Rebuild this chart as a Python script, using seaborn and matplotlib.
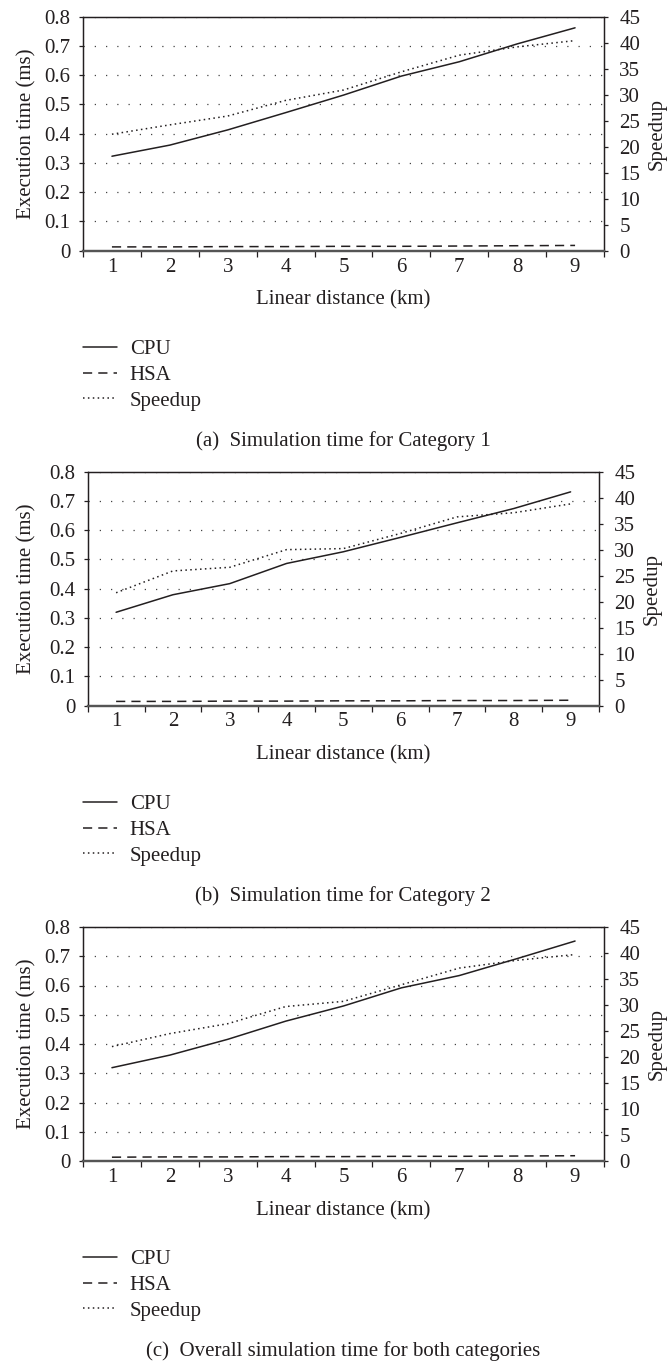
import matplotlib
matplotlib.use("Agg")
import matplotlib.pyplot as plt
import seaborn as sns
from matplotlib.lines import Line2D
from matplotlib.ticker import FixedLocator, FixedFormatter, NullFormatter

# Linear distance (km)
distance = [1, 2, 3, 4, 5, 6, 7, 8, 9]

# (a) Category 1
cpu_a = [0.323, 0.361, 0.413, 0.472, 0.532, 0.597, 0.646, 0.707, 0.762]
hsa_a = [0.013, 0.013, 0.014, 0.014, 0.015, 0.015, 0.016, 0.017, 0.018]
speedup_a = [22.4, 24.2, 25.9, 28.9, 30.9, 34.4, 37.6, 39.2, 40.4]

# (b) Category 2
cpu_b = [0.319, 0.379, 0.417, 0.486, 0.526, 0.575, 0.625, 0.674, 0.731]
hsa_b = [0.014, 0.014, 0.015, 0.015, 0.016, 0.016, 0.017, 0.017, 0.018]
speedup_b = [21.7, 25.9, 26.6, 30.0, 30.2, 33.1, 36.3, 37.1, 38.8]

# (c) Both categories
cpu_c = [0.319, 0.362, 0.416, 0.478, 0.530, 0.592, 0.634, 0.692, 0.752]
hsa_c = [0.013, 0.014, 0.014, 0.015, 0.015, 0.016, 0.016, 0.017, 0.018]
speedup_c = [22.0, 24.5, 26.4, 29.7, 30.7, 33.9, 37.1, 38.6, 39.7]

captions = [
    "(a)  Simulation time for Category 1",
    "(b)  Simulation time for Category 2",
    "(c)  Overall simulation time for both categories",
]
time_ticks = [0, 0.1, 0.2, 0.3, 0.4, 0.5, 0.6, 0.7, 0.8]
time_labels = ["0", "0.1", "0.2", "0.3", "0.4", "0.5", "0.6", "0.7", "0.8"]
speedup_ticks = [0, 5, 10, 15, 20, 25, 30, 35, 40, 45]
series_names = ["CPU", "HSA", "Speedup"]

sns.set_theme(style="white")
plt.rcParams["font.family"] = ["Liberation Serif", "DejaVu Serif"]
plt.rcParams["font.size"] = 15

INK = "#231f20"
W, H = 670, 1365
FS = 15

STYLE_CPU = dict(color=INK, linewidth=1.1, linestyle="-")
STYLE_HSA = dict(color=INK, linewidth=1.1, linestyle=(0, (6, 4)))
STYLE_SPD = dict(color=INK, linewidth=1.1, linestyle=(0, (1, 2.2)))

fig = plt.figure(figsize=(W / 100, H / 100), dpi=100)

# panel boxes in pixels: left, right, top, bottom
boxes = [
    (83, 604, 16.7, 250.7),
    (87.7, 599, 471.7, 705.5),
    (83, 604, 927, 1161),
]
panels = [
    (cpu_a, hsa_a, speedup_a),
    (cpu_b, hsa_b, speedup_b),
    (cpu_c, hsa_c, speedup_c),
]


def fx(px):
    return px / W


def fy(py):
    return 1 - py / H


for i, ((l, r, t, b), (cpu, hsa, spd)) in enumerate(zip(boxes, panels)):
    ax = fig.add_axes([fx(l), fy(b), (r - l) / W, (b - t) / H])
    ax.set_facecolor("white")

    sns.lineplot(x=distance, y=cpu, ax=ax, legend=False, **STYLE_CPU)
    sns.lineplot(x=distance, y=hsa, ax=ax, legend=False, **STYLE_HSA)

    ax.set_xlim(0.5, 9.5)
    ax.set_ylim(0, 0.8)
    ax.yaxis.set_major_locator(FixedLocator(time_ticks))
    ax.yaxis.set_major_formatter(FixedFormatter(time_labels))
    ax.yaxis.grid(True, linestyle=(0, (1, 8)), color="#444444", linewidth=0.9)
    ax.xaxis.grid(False)

    # boundaries get tick marks, category centres get the labels
    ax.xaxis.set_major_locator(FixedLocator([k + 0.5 for k in range(0, 10)]))
    ax.xaxis.set_major_formatter(NullFormatter())
    ax.xaxis.set_minor_locator(FixedLocator(distance))
    ax.xaxis.set_minor_formatter(FixedFormatter([str(d) for d in distance]))
    ax.tick_params(axis="x", which="major", direction="out", length=4.5,
                   width=0.9, color=INK, bottom=True)
    ax.tick_params(axis="x", which="minor", length=0, pad=5,
                   labelsize=FS, labelcolor=INK, bottom=True)
    ax.tick_params(axis="y", which="major", direction="out", length=3,
                   width=0.9, color=INK, pad=6, labelsize=FS,
                   labelcolor=INK, left=True)
    ax.set_xlabel("")
    ax.set_ylabel("")

    ax2 = ax.twinx()
    sns.lineplot(x=distance, y=spd, ax=ax2, legend=False, **STYLE_SPD)
    ax2.set_ylim(0, 45)
    ax2.set_xlim(0.5, 9.5)
    ax2.yaxis.set_major_locator(FixedLocator(speedup_ticks))
    ax2.grid(False)
    ax2.tick_params(axis="y", which="major", direction="out", length=3,
                    width=0.9, color=INK, pad=8, labelsize=FS,
                    labelcolor=INK, right=True)
    ax2.set_ylabel("")

    for a in (ax, ax2):
        for name, sp in a.spines.items():
            sp.set_color(INK)
            sp.set_linewidth(0.9)
        a.spines["bottom"].set_linewidth(1.6)
        a.spines["bottom"].set_color("#555555")

    off = i * 455
    mid_y = (t + b) / 2
    fig.text(fx(27), fy(mid_y), "Execution time (ms)", rotation=90,
             ha="center", va="center", fontsize=FS, color=INK)
    fig.text(fx(r + 53), fy(mid_y), "Speedup", rotation=90,
             ha="center", va="center", fontsize=FS, color=INK)
    fig.text(fx((l + r) / 2), fy(b + 49.5), "Linear distance (km)",
             ha="center", va="center", fontsize=FS, color=INK)

    handles = [Line2D([], [], **STYLE_CPU), Line2D([], [], **STYLE_HSA),
               Line2D([], [], **STYLE_SPD)]
    fig.legend(handles, series_names, loc="center left",
               bbox_to_anchor=(fx(83), fy(375 + off)), frameon=False,
               fontsize=FS, handlelength=1.65, handletextpad=0.6,
               labelspacing=0.3, borderpad=0, borderaxespad=0,
               labelcolor=INK)

    fig.text(fx(343), fy(441 + off), captions[i], ha="center", va="center",
             fontsize=FS, color=INK)

fig.savefig("out.png", dpi=100, facecolor="white")
